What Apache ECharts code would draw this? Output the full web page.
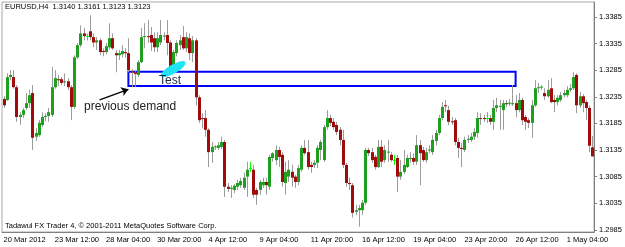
<!DOCTYPE html>
<html><head><meta charset="utf-8">
<script src="https://cdn.jsdelivr.net/npm/echarts@6/dist/echarts.min.js"></script>
<style>html,body{margin:0;padding:0;background:#fff}#c{width:625px;height:247px}</style>
</head><body><div id="c"></div>
<script>
const xTickLabels = ['20 Mar 2012','23 Mar 12:00','28 Mar 04:00','30 Mar 20:00','4 Apr 12:00','9 Apr 04:00','11 Apr 20:00','16 Apr 12:00','19 Apr 04:00','23 Apr 20:00','26 Apr 12:00','1 May 04:00'];
const yTickValues = [1.2985,1.3035,1.3085,1.3135,1.3185,1.3235,1.3285,1.3335,1.3385];

const opens = [
1.3231,1.3229,1.3272,1.3272,1.3253,1.3197,1.3201,1.3214,1.3223,1.3242,
1.3160,1.3163,1.3182,1.3197,1.3199,1.3201,1.3253,1.3268,1.3268,1.3263,
1.3264,1.3253,1.3216,1.3309,1.3332,1.3354,1.3349,1.3358,1.3347,1.3337,
1.3341,1.3321,1.3319,1.3328,1.3345,1.3317,1.3313,1.3315,1.3319,1.3317,
1.3283,1.3281,1.3276,1.3300,1.3347,1.3349,1.3351,1.3345,1.3328,1.3337,
1.3349,1.3351,1.3337,1.3285,1.3317,1.3332,1.3347,1.3326,1.3345,1.3317,
1.3341,1.3234,1.3195,1.3195,1.3173,1.3131,1.3141,1.3139,1.3141,1.3150,
1.3066,1.3062,1.3060,1.3066,1.3069,1.3064,1.3085,1.3101,1.3098,1.3060,
1.3060,1.3069,1.3075,1.3066,1.3120,1.3116,1.3135,1.3126,1.3073,1.3085,
1.3094,1.3085,1.3075,1.3098,1.3139,1.3131,1.3107,1.3107,1.3111,1.3135,
1.3116,1.3178,1.3195,1.3188,1.3182,1.3173,1.3154,1.3107,1.3073,1.3069,
1.3019,1.3022,1.3022,1.3036,1.3135,1.3131,1.3122,1.3103,1.3141,1.3116,
1.3131,1.3126,1.3116,1.3120,1.3085,1.3094,1.3103,1.3118,1.3120,1.3113,
1.3144,1.3135,1.3116,1.3135,1.3131,1.3152,1.3167,1.3195,1.3219,1.3210,
1.3189,1.3191,1.3150,1.3139,1.3135,1.3154,1.3154,1.3160,1.3167,1.3195,
1.3195,1.3195,1.3195,1.3188,1.3214,1.3216,1.3210,1.3223,1.3223,1.3221,
1.3223,1.3210,1.3229,1.3197,1.3191,1.3186,1.3219,1.3251,1.3253,1.3242,
1.3236,1.3251,1.3229,1.3225,1.3229,1.3238,1.3238,1.3248,1.3251,1.3276,
1.3219,1.3236,1.3225,1.3214,1.3140
];
const closes = [
1.3219,1.3272,1.3276,1.3253,1.3197,1.3201,1.3210,1.3223,1.3238,1.3158,
1.3167,1.3186,1.3197,1.3199,1.3206,1.3253,1.3270,1.3266,1.3261,1.3264,
1.3253,1.3216,1.3309,1.3332,1.3354,1.3349,1.3350,1.3347,1.3337,1.3341,
1.3319,1.3319,1.3330,1.3345,1.3326,1.3313,1.3317,1.3321,1.3317,1.3285,
1.3281,1.3278,1.3300,1.3347,1.3349,1.3347,1.3337,1.3328,1.3345,1.3351,
1.3350,1.3336,1.3281,1.3319,1.3336,1.3341,1.3326,1.3347,1.3317,1.3341,
1.3234,1.3191,1.3194,1.3173,1.3131,1.3141,1.3142,1.3144,1.3150,1.3066,
1.3062,1.3064,1.3068,1.3073,1.3077,1.3083,1.3098,1.3102,1.3051,1.3051,
1.3075,1.3075,1.3069,1.3122,1.3129,1.3135,1.3122,1.3075,1.3094,1.3098,
1.3083,1.3075,1.3101,1.3139,1.3129,1.3103,1.3103,1.3111,1.3139,1.3150,
1.3178,1.3195,1.3186,1.3178,1.3169,1.3154,1.3107,1.3073,1.3071,1.3017,
1.3022,1.3026,1.3036,1.3135,1.3129,1.3116,1.3103,1.3141,1.3113,1.3135,
1.3132,1.3116,1.3117,1.3085,1.3094,1.3107,1.3120,1.3120,1.3113,1.3144,
1.3129,1.3116,1.3131,1.3136,1.3154,1.3167,1.3195,1.3216,1.3218,1.3188,
1.3188,1.3150,1.3139,1.3137,1.3154,1.3156,1.3160,1.3169,1.3195,1.3194,
1.3193,1.3196,1.3188,1.3214,1.3219,1.3218,1.3223,1.3221,1.3224,1.3223,
1.3210,1.3229,1.3191,1.3188,1.3186,1.3219,1.3251,1.3253,1.3254,1.3236,
1.3248,1.3225,1.3225,1.3233,1.3238,1.3242,1.3248,1.3251,1.3272,1.3219,
1.3236,1.3223,1.3214,1.3143,1.3123
];
const highs = [
1.3236,1.3279,1.3285,1.3285,1.3257,1.3206,1.3214,1.3242,1.3248,1.3257,
1.3176,1.3191,1.3206,1.3204,1.3214,1.3291,1.3285,1.3276,1.3272,1.3279,
1.3270,1.3257,1.3313,1.3336,1.3369,1.3364,1.3354,1.3388,1.3354,1.3347,
1.3345,1.3326,1.3336,1.3373,1.3354,1.3323,1.3323,1.3332,1.3326,1.3345,
1.3287,1.3285,1.3304,1.3364,1.3373,1.3379,1.3366,1.3356,1.3356,1.3379,
1.3356,1.3379,1.3341,1.3323,1.3341,1.3351,1.3368,1.3356,1.3354,1.3349,
1.3345,1.3238,1.3204,1.3210,1.3176,1.3150,1.3144,1.3150,1.3160,1.3154,
1.3073,1.3069,1.3071,1.3079,1.3083,1.3092,1.3113,1.3113,1.3107,1.3064,
1.3079,1.3083,1.3083,1.3126,1.3131,1.3144,1.3141,1.3131,1.3113,1.3116,
1.3107,1.3088,1.3107,1.3144,1.3154,1.3154,1.3113,1.3116,1.3144,1.3154,
1.3182,1.3210,1.3201,1.3195,1.3188,1.3178,1.3173,1.3111,1.3083,1.3073,
1.3032,1.3032,1.3041,1.3139,1.3139,1.3139,1.3126,1.3154,1.3154,1.3144,
1.3154,1.3131,1.3126,1.3126,1.3116,1.3135,1.3126,1.3131,1.3129,1.3163,
1.3154,1.3141,1.3139,1.3144,1.3163,1.3173,1.3201,1.3225,1.3229,1.3218,
1.3197,1.3195,1.3158,1.3148,1.3160,1.3163,1.3167,1.3176,1.3206,1.3204,
1.3201,1.3206,1.3201,1.3229,1.3233,1.3229,1.3229,1.3229,1.3231,1.3257,
1.3238,1.3242,1.3233,1.3201,1.3195,1.3229,1.3266,1.3261,1.3257,1.3251,
1.3266,1.3270,1.3238,1.3238,1.3244,1.3248,1.3255,1.3259,1.3281,1.3279,
1.3244,1.3240,1.3229,1.3219,1.3161
];
const lows = [
1.3214,1.3227,1.3266,1.3250,1.3188,1.3182,1.3195,1.3210,1.3214,1.3135,
1.3152,1.3160,1.3178,1.3189,1.3188,1.3197,1.3250,1.3255,1.3257,1.3255,
1.3248,1.3191,1.3212,1.3306,1.3328,1.3341,1.3341,1.3341,1.3328,1.3323,
1.3313,1.3311,1.3315,1.3324,1.3323,1.3281,1.3304,1.3309,1.3308,1.3281,
1.3253,1.3253,1.3272,1.3298,1.3326,1.3336,1.3321,1.3319,1.3319,1.3332,
1.3341,1.3313,1.3279,1.3281,1.3311,1.3323,1.3323,1.3319,1.3304,1.3300,
1.3219,1.3186,1.3176,1.3160,1.3103,1.3111,1.3135,1.3135,1.3137,1.3047,
1.3056,1.3045,1.3054,1.3060,1.3064,1.3060,1.3047,1.3094,1.3045,1.3032,
1.3051,1.3064,1.3051,1.3060,1.3113,1.3107,1.3103,1.3066,1.3051,1.3075,
1.3066,1.3064,1.3069,1.3094,1.3126,1.3098,1.3092,1.3101,1.3101,1.3116,
1.3113,1.3173,1.3180,1.3173,1.3163,1.3144,1.3101,1.3066,1.3060,1.3008,
1.3013,1.2991,1.3013,1.3032,1.3124,1.3111,1.3098,1.3101,1.3103,1.3111,
1.3113,1.3113,1.3107,1.3056,1.3079,1.3090,1.3101,1.3111,1.3107,1.3107,
1.3069,1.3113,1.3111,1.3129,1.3126,1.3144,1.3163,1.3191,1.3206,1.3182,
1.3182,1.3144,1.3120,1.3103,1.3131,1.3148,1.3150,1.3154,1.3158,1.3182,
1.3188,1.3186,1.3182,1.3173,1.3206,1.3173,1.3173,1.3216,1.3218,1.3218,
1.3197,1.3206,1.3182,1.3173,1.3176,1.3158,1.3216,1.3242,1.3248,1.3229,
1.3233,1.3223,1.3206,1.3219,1.3225,1.3234,1.3234,1.3244,1.3248,1.3204,
1.3214,1.3206,1.3191,1.3131,1.3123
];
const dojiBars = [26, 77, 122, 151];

const zoneStart = 39, zoneEnd = 160, zoneTop = 1.3282, zoneBottom = 1.3255;
const lastPrice = 1.3123;
const headerText = 'EURUSD,H4  1.3140 1.3161 1.3123 1.3123';
const footerText = 'Tadawul FX Trader 4, \u00a9 2001-2011 MetaQuotes Software Corp.';

const FONT = 'Liberation Sans';
const categories = opens.map((_, i) => String(i));
const candleData = opens.map((o, i) => [i, o, closes[i], lows[i], highs[i]]);

const chart = echarts.init(document.getElementById('c'), null, {renderer: 'canvas'});
chart.setOption({
  animation: false,
  backgroundColor: '#ffffff',
  grid: {left: 2, right: 31, top: 2, bottom: 15, show: true, borderColor: '#a8a8a8', borderWidth: 1},
  xAxis: {
    type: 'category', data: categories, boundaryGap: true,
    axisLine: {lineStyle: {color: '#808080', width: 1}},
    axisTick: {alignWithLabel: true, interval: (i) => i % 16 === 0, length: 4, lineStyle: {color: '#808080'}},
    axisLabel: {interval: (i) => i % 16 === 0, formatter: (v, i) => xTickLabels[i / 16] || '',
      align: 'left', margin: 4, fontSize: 7.5, color: '#000', fontFamily: FONT},
    splitLine: {show: false}
  },
  yAxis: {
    type: 'value', position: 'right', min: 1.2981, max: 1.3413,
    splitLine: {show: false},
    axisLine: {show: true, lineStyle: {color: '#808080'}},
    axisTick: {show: true, length: 3, lineStyle: {color: '#808080'}, customValues: yTickValues},
    axisLabel: {customValues: yTickValues, formatter: (v) => v.toFixed(4), fontSize: 7.5, color: '#000', margin: 5, fontFamily: FONT}
  },
  graphic: [
    {type: 'text', left: 5, top: 3, style: {text: headerText, fontSize: 7.5, fill: '#000', fontFamily: FONT}},
    {type: 'text', left: 5, top: 222, style: {text: footerText, fontSize: 7.5, fill: '#000', fontFamily: FONT}}
  ],
  series: [
    {
      type: 'custom', name: 'EURUSD', data: candleData, encode: {x: 0, y: [1, 2, 3, 4]}, z: 3,
      renderItem: function (params, api) {
        const i = api.value(0), o = api.value(1), c = api.value(2), l = api.value(3), h = api.value(4);
        const pO = api.coord([i, o]), pC = api.coord([i, c]), pL = api.coord([i, l]), pH = api.coord([i, h]);
        const cx = Math.round(pO[0]);
        const x = cx + 0.5;
        const doji = dojiBars.indexOf(i) >= 0;
        const children = [{type: 'line', shape: {x1: x, y1: pH[1], x2: x, y2: pL[1]},
          style: {stroke: doji ? '#00ff00' : '#9c9c9c', lineWidth: 1}}];
        const top = Math.min(pO[1], pC[1]), bot = Math.max(pO[1], pC[1]);
        if (doji) {
          const yy = Math.round(top) + 0.5;
          children.push({type: 'line', shape: {x1: cx - 1, y1: yy, x2: cx + 2, y2: yy}, style: {stroke: '#00ff00', lineWidth: 1}});
        } else {
          children.push({type: 'rect', shape: {x: cx - 1, y: top, width: 3, height: Math.max(bot - top, 1)},
            style: {fill: c >= o ? '#1ea01e' : '#a00c0c', stroke: null}});
        }
        return {type: 'group', children: children};
      }
    },
    {
      type: 'line', data: closes, showSymbol: false, silent: true, lineStyle: {opacity: 0, width: 0}, z: 5,
      markArea: {silent: true, itemStyle: {color: 'rgba(0,0,0,0)', borderColor: '#0000ff', borderWidth: 2},
        data: [[{xAxis: zoneStart, yAxis: zoneTop}, {xAxis: zoneEnd, yAxis: zoneBottom}]]},
      markLine: {silent: true, symbol: ['none', 'none'], lineStyle: {opacity: 0, width: 0},
        label: {show: true, position: 'end', distance: 1, formatter: lastPrice.toFixed(4), backgroundColor: '#000', color: '#fff',
          padding: [1, 2, 1, 2], fontSize: 7.5, fontFamily: FONT},
        data: [{yAxis: lastPrice}]},
      markPoint: {silent: true, data: [
        {coord: [53, 1.3287], symbol: 'circle', symbolSize: [28, 9], symbolRotate: 30, itemStyle: {color: '#1ee4f6'}, label: {show: false}},
        {coord: [52, 1.3266], symbol: 'rect', symbolSize: 1, itemStyle: {color: 'rgba(0,0,0,0)'},
          label: {show: true, position: 'inside', formatter: 'Test', color: '#1c2a4a', fontSize: 12, fontFamily: FONT}},
        {coord: [25, 1.3216], symbol: 'rect', symbolSize: 1, itemStyle: {color: 'rgba(0,0,0,0)'},
          label: {show: true, position: 'right', distance: 0, formatter: 'previous demand', color: '#222', fontSize: 12, fontFamily: FONT}}
      ]}
    },
    {
      type: 'line', data: closes, showSymbol: false, silent: true, lineStyle: {opacity: 0, width: 0}, z: 6,
      markLine: {silent: true, symbol: ['none', 'arrow'], symbolSize: 7, label: {show: false},
        lineStyle: {color: '#000', width: 1.3, type: 'solid'},
        data: [[{coord: [30, 1.3229]}, {coord: [39, 1.3249]}]]}
    }
  ]
});
</script></body></html>
